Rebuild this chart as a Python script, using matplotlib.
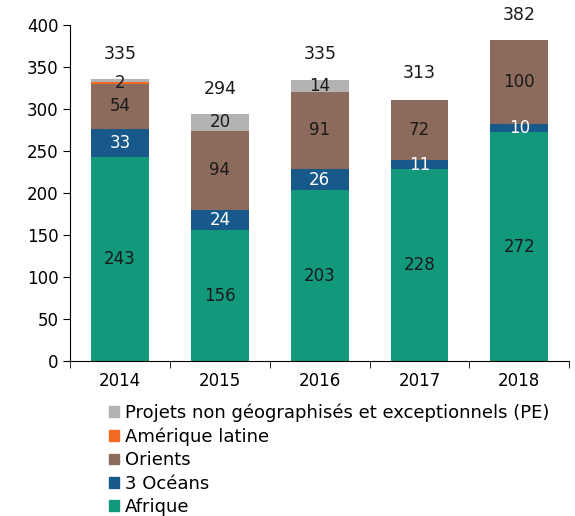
import matplotlib.pyplot as plt
import numpy as np
from matplotlib.patches import Patch

years = ["2014", "2015", "2016", "2017", "2018"]
afrique = [243, 156, 203, 228, 272]
oceans = [33, 24, 26, 11, 10]
orients = [54, 94, 91, 72, 100]
amerique = [2, 0, 0, 0, 0]
pe = [3, 20, 14, 0, 0]
totals = [335, 294, 335, 313, 382]

# which segments carry a printed value
pe_labels = ["", "20", "14", "", ""]
amerique_labels = ["2", "", "", "", ""]

series = [
    ("Afrique", afrique, "#12987a", "#1a1a1a", [str(v) for v in afrique]),
    ("3 Océans", oceans, "#17598a", "white", [str(v) for v in oceans]),
    ("Orients", orients, "#8c6b5c", "#1a1a1a", [str(v) for v in orients]),
    ("Amérique latine", amerique, "#f26a21", "#1a1a1a", amerique_labels),
    ("Projets non géographisés et exceptionnels (PE)", pe, "#b3b3b3", "#1a1a1a", pe_labels),
]

plt.rcParams['font.family'] = ['DejaVu Sans']

fig = plt.figure(figsize=(5.75, 5.16), dpi=100)
ax = fig.add_axes([0.122, 0.30, 0.868, 0.652])

x = np.arange(len(years))
width = 0.58
bottom = np.zeros(len(years))
for name, vals, color, tcolor, labels in series:
    vals = np.array(vals, dtype=float)
    ax.bar(x, vals, width, bottom=bottom, color=color, label=name)
    for i, (v, lab) in enumerate(zip(vals, labels)):
        if lab:
            ax.text(x[i], bottom[i] + v / 2, lab, ha="center", va="center",
                    color=tcolor, fontsize=12)
    bottom += vals

for i, t in enumerate(totals):
    ax.text(x[i], t + 30, str(t), ha="center", va="center", fontsize=12.5, color="#1a1a1a")

ax.set_xlim(-0.5, 4.5)
ax.set_ylim(0, 400)
ax.set_yticks(range(0, 401, 50))
ax.set_xticks(x)
ax.set_xticklabels(years)
ax.set_xticks(np.arange(-0.5, 5, 1), minor=True)
ax.tick_params(axis="x", which="major", length=0, labelsize=12, pad=8)
ax.tick_params(axis="x", which="minor", length=5, direction="out")
ax.tick_params(axis="y", length=5, labelsize=12)
ax.spines["top"].set_visible(False)
ax.spines["right"].set_visible(False)

handles = [Patch(color=c, label=n) for n, _, c, _, _ in series][::-1]
fig.legend(handles=handles, loc="upper left", bbox_to_anchor=(0.19, 0.218),
           frameon=False, fontsize=13, handlelength=0.55, handleheight=0.55,
           handletextpad=0.3, labelspacing=0.3, borderpad=0, borderaxespad=0)

fig.savefig("out.png", dpi=100)
